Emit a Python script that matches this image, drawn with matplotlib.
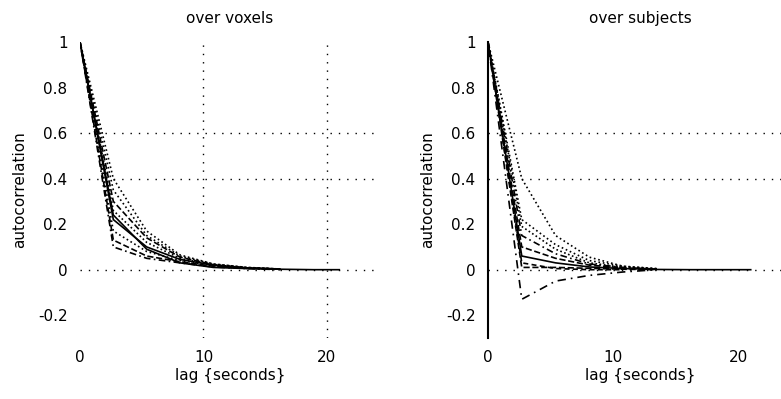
import matplotlib
matplotlib.use("Agg")
import matplotlib.pyplot as plt

# ---- data ----
lags = [0, 2.7, 5.4, 8.1, 10.8, 13.5, 16.2, 18.9, 21.0]

# over voxels
voxel_curves = [
    [1.0, 0.10, 0.05, 0.030, 0.012, 0.005, 0.0],
    [1.0, 0.13, 0.06, 0.035, 0.015, 0.006, 0.002],
    [1.0, 0.17, 0.08, 0.040, 0.018, 0.008, 0.002],
    [1.0, 0.22, 0.10, 0.045, 0.020, 0.008, 0.003],
    [1.0, 0.26, 0.12, 0.050, 0.020, 0.008, 0.002],
    [1.0, 0.30, 0.14, 0.055, 0.022, 0.008, 0.003],
    [1.0, 0.35, 0.15, 0.060, 0.025, 0.010, 0.003],
    [1.0, 0.40, 0.17, 0.065, 0.025, 0.010, 0.003],
    [1.0, 0.24, 0.09, 0.030, 0.010, 0.005, 0.002, 0.0, 0.0],
]
voxel_styles = [(0, (4, 2, 1, 2)), "--", ":", "-", (0, (1, 1.5)), "--", ":", ":", "-"]

# over subjects
subject_curves = [
    [1.0, 0.40, 0.15, 0.055, 0.015, 0.005],
    [1.0, 0.22, 0.11, 0.040, 0.015, 0.004],
    [1.0, 0.19, 0.09, 0.030, 0.010, 0.003],
    [1.0, 0.15, 0.07, 0.025, 0.010, 0.002],
    [1.0, 0.10, 0.05, 0.020, 0.008, 0.002],
    [1.0, 0.06, 0.03, 0.012, 0.005, 0.001, 0.0, 0.0, 0.0],
    [1.0, 0.01, 0.01, 0.006, 0.002, 0.0],
    [1.0, -0.13, -0.05, -0.025, -0.010, 0.0],
    [1.0, 0.03, 0.005, 0.0, 0.0],
]
subject_styles = [":", ":", (0, (1, 1.5)), (0, (4, 2, 1, 2)), "--", "-", "--", (0, (5, 3, 1, 3)), (0, (3, 2))]

y_ticks = [-0.2, 0, 0.2, 0.4, 0.6, 0.8, 1]
y_ticklabels = ["-0.2", "0", "0.2", "0.4", "0.6", "0.8", "1"]
x_ticks = [0, 10, 20]
grid_y = [0, 0.4, 0.6]
grid_x_left = [10, 20]

plt.rcParams["font.family"] = ["DejaVu Sans"]
fig = plt.figure(figsize=(7.81, 3.99), dpi=100)

W, H = 781, 399
def add_axes(x0px, top_px, bottom_px, width_px):
    return fig.add_axes([x0px / W, 1 - bottom_px / H, width_px / W, (bottom_px - top_px) / H])

ax1 = add_axes(80, 42, 338, 300)
ax2 = add_axes(488, 42, 338, 304)

for ax, curves, styles, title, gx, left_spine in [
    (ax1, voxel_curves, voxel_styles, "over voxels", grid_x_left, False),
    (ax2, subject_curves, subject_styles, "over subjects", [], True),
]:
    for gy in grid_y:
        ax.axhline(gy, color="black", linestyle=(0, (1, 5)), linewidth=1.0, zorder=1)
    for g in gx:
        ax.axvline(g, color="black", linestyle=(0, (1, 5)), linewidth=1.0, zorder=1)
    for vals, ls in zip(curves, styles):
        ax.plot(lags[:len(vals)], vals, color="black", linestyle=ls, linewidth=1.2, zorder=3)
    ax.set_xlim(0, 24.3)
    ax.set_ylim(-0.3, 1.0)
    ax.set_yticks(y_ticks)
    ax.set_yticklabels(y_ticklabels)
    ax.set_xticks(x_ticks)
    ax.tick_params(length=0, pad=9, labelsize=11)
    for s in ["top", "right", "bottom"]:
        ax.spines[s].set_visible(False)
    ax.spines["left"].set_visible(left_spine)
    ax.spines["left"].set_linewidth(1.5)
    ax.set_title(title, fontsize=11, pad=14)
    ax.set_xlabel("lag {seconds}", fontsize=11, labelpad=2)
    ax.set_ylabel("autocorrelation", fontsize=11, labelpad=8)
    ax.patch.set_alpha(0)

fig.savefig("out.png", dpi=100, facecolor="white")
